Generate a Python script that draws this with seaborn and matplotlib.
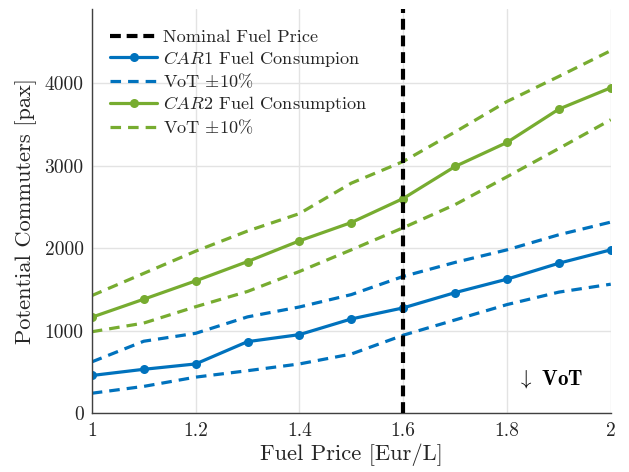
import matplotlib
matplotlib.use("Agg")
import matplotlib.pyplot as plt
import seaborn as sns
import numpy as np
import pandas as pd
from matplotlib.lines import Line2D

fuel_price = [1.0, 1.1, 1.2, 1.3, 1.4, 1.5, 1.6, 1.7, 1.8, 1.9, 2.0]
car1 = [460, 535, 600, 870, 955, 1145, 1279, 1464, 1627, 1820, 1982]
car1_hi = [625, 875, 971, 1170, 1290, 1440, 1660, 1830, 1982, 2165, 2318]
car1_lo = [245, 328, 440, 518, 600, 720, 948, 1133, 1319, 1470, 1566]
car2 = [1166, 1384, 1606, 1840, 2091, 2313, 2604, 2992, 3283, 3687, 3945]
car2_hi = [1428, 1697, 1966, 2210, 2421, 2790, 3052, 3410, 3779, 4083, 4395]
car2_lo = [990, 1095, 1293, 1478, 1720, 1982, 2250, 2530, 2867, 3210, 3558]
nominal_price = 1.6
xticks = [1.0, 1.2, 1.4, 1.6, 1.8, 2.0]
xticklabels = ["1", "1.2", "1.4", "1.6", "1.8", "2"]
yticks = [0, 1000, 2000, 3000, 4000]

blue = "#0072BD"
green = "#77AC30"

sns.set_style("white")
plt.rcParams.update({
    "font.family": "serif",
    "font.serif": ["cmr10"],
    "mathtext.fontset": "cm",
    "axes.formatter.use_mathtext": True,
    "axes.unicode_minus": False,
})

fig, ax = plt.subplots(figsize=(6.29, 4.72), dpi=100)
fig.subplots_adjust(left=0.146, right=0.971, top=0.981, bottom=0.124)

dash = (0, (3.3, 2.2))
kdash = (0, (2.6, 1.4))
lw = 2.3

sns.lineplot(x=fuel_price, y=car1_hi, color=blue, linestyle=dash, lw=lw, ax=ax)
sns.lineplot(x=fuel_price, y=car1_lo, color=blue, linestyle=dash, lw=lw, ax=ax)
sns.lineplot(x=fuel_price, y=car1, color=blue, lw=lw, marker="o", markersize=6.5,
             markeredgewidth=0, ax=ax)
sns.lineplot(x=fuel_price, y=car2_hi, color=green, linestyle=dash, lw=lw, ax=ax)
sns.lineplot(x=fuel_price, y=car2_lo, color=green, linestyle=dash, lw=lw, ax=ax)
sns.lineplot(x=fuel_price, y=car2, color=green, lw=lw, marker="o", markersize=6.5,
             markeredgewidth=0, ax=ax)
ax.axvline(nominal_price, color="black", linestyle=kdash, lw=3, zorder=5)

ax.set_xlim(1, 2)
ax.set_ylim(0, 4900)
ax.set_xticks(xticks)
ax.set_xticklabels(xticklabels)
ax.set_yticks(yticks)
ax.set_yticklabels([str(v) for v in yticks])
ax.grid(True, color="#e3e3e3", lw=1)
ax.set_axisbelow(True)
for s in ["top", "right"]:
    ax.spines[s].set_visible(False)
for s in ["left", "bottom"]:
    ax.spines[s].set_color("#404040")
    ax.spines[s].set_linewidth(1.0)
ax.tick_params(direction="in", length=5, width=1, color="#404040",
               labelsize=14, labelcolor="#262626", pad=6)
ax.set_xlabel("Fuel Price [Eur/L]", fontsize=16.2, color="#262626", labelpad=3)
ax.set_ylabel("Potential Commuters [pax]", fontsize=16.2, color="#262626", labelpad=5)

ax.text(1.819, 415, r"$\downarrow$ $\mathbf{VoT}$", fontsize=15, va="center",
        ha="left", color="black")

handles = [
    Line2D([], [], color="black", linestyle=kdash, lw=3),
    Line2D([], [], color=blue, lw=lw, marker="o", markersize=6.5, markeredgewidth=0),
    Line2D([], [], color=blue, lw=lw, linestyle=dash),
    Line2D([], [], color=green, lw=lw, marker="o", markersize=6.5, markeredgewidth=0),
    Line2D([], [], color=green, lw=lw, linestyle=dash),
]
labels = [
    "Nominal Fuel Price",
    r"$\mathit{CAR1}$ Fuel Consumpion",
    r"VoT $\pm$10%",
    r"$\mathit{CAR2}$ Fuel Consumption",
    r"VoT $\pm$10%",
]
ax.legend(handles, labels, loc="upper left", frameon=False, fontsize=13.1,
          handlelength=2.6, handletextpad=0.3, labelspacing=0.2,
          borderaxespad=0.0, borderpad=0.4, bbox_to_anchor=(0.021, 0.968))

fig.savefig("out.png", dpi=100)
